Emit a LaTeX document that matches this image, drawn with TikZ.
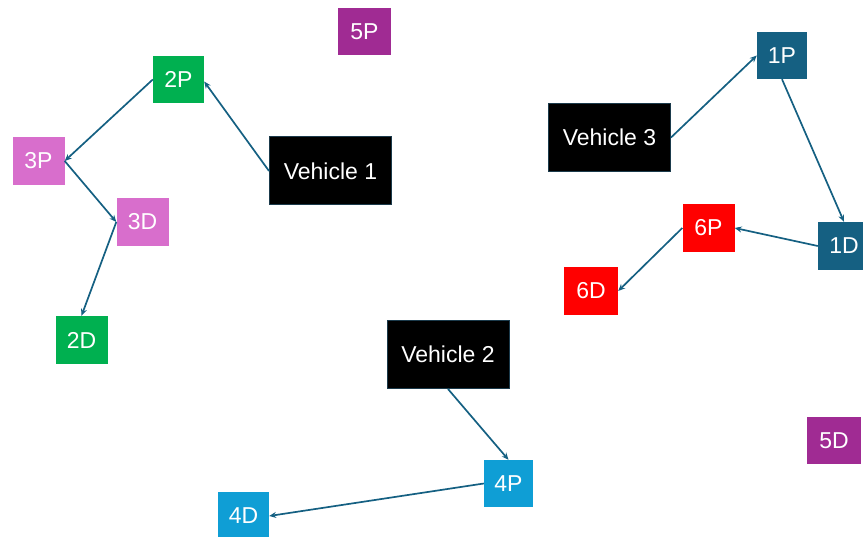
\documentclass[tikz,border=0pt]{standalone}
\usepackage{fontspec}
\setmainfont{Liberation Sans}
\usetikzlibrary{arrows.meta}
\definecolor{cgreen}{HTML}{00B050}
\definecolor{cpink}{HTML}{D86ECC}
\definecolor{cpurple}{HTML}{A02B93}
\definecolor{cteal}{HTML}{156082}
\definecolor{cblue}{HTML}{0F9ED5}
\definecolor{cred}{HTML}{FF0000}
\definecolor{cborder}{HTML}{1B3A4B}
\tikzset{
  box/.style={rectangle, inner sep=0pt, text=white, font=\fontsize{23}{26}\selectfont, minimum width=52pt, minimum height=48pt},
  veh/.style={rectangle, inner sep=0pt, text=white, fill=black, draw=cborder, line width=1pt, font=\fontsize{23}{26}\selectfont, minimum width=122pt, minimum height=68pt},
  conn/.style={draw=cteal, line width=1.7pt, -{Stealth[length=7pt,width=6pt]}}
}
\begin{document}
\begin{tikzpicture}[x=1pt,y=-1pt]
\useasboundingbox (0,0) rectangle (863,537);
\clip (0,0) rectangle (863,537);
\node[box, fill=cpurple, minimum width=53pt, minimum height=47pt] (n5P) at (364.5,31.5) {5P};
\node[box, fill=cgreen, minimum width=51pt, minimum height=47pt] (n2P) at (178.5,79.5) {2P};
\node[box, fill=cpink] (n3P) at (38.5,161) {3P};
\node[box, fill=cpink] (n3D) at (142.5,222) {3D};
\node[box, fill=cgreen] (n2D) at (81.5,340) {2D};
\node[veh] (v1) at (330.5,171) {Vehicle 1};
\node[veh] (v3) at (609.5,137.5) {Vehicle 3};
\node[box, fill=cteal, minimum width=50pt, minimum height=47pt] (n1P) at (782,55.5) {1P};
\node[box, fill=cteal] (n1D) at (844,246) {1D};
\node[box, fill=cred] (n6P) at (708.5,228) {6P};
\node[box, fill=cred, minimum width=54pt] (n6D) at (591,291) {6D};
\node[veh] (v2) at (448,354.5) {Vehicle 2};
\node[box, fill=cblue, minimum width=49pt, minimum height=47pt] (n4P) at (508.5,483.5) {4P};
\node[box, fill=cblue, minimum width=51pt] (n4D) at (243.5,516) {4D};
\node[box, fill=cpurple, minimum width=54pt, minimum height=47pt] (n5D) at (834,440.5) {5D};
\draw[conn] (v1.west) -- ([yshift=-2pt]n2P.east);
\draw[conn] (n2P.west) -- (n3P.east);
\draw[conn] (n3P.east) -- (n3D.west);
\draw[conn] (n3D.west) -- (n2D.north);
\draw[conn] (v3.east) -- (n1P.west);
\draw[conn] (n1P.south) -- (n1D.north);
\draw[conn] (n1D.west) -- (n6P.east);
\draw[conn] (n6P.west) -- (n6D.east);
\draw[conn] (v2.south) -- (n4P.north);
\draw[conn] (n4P.west) -- (n4D.east);
\end{tikzpicture}
\end{document}
